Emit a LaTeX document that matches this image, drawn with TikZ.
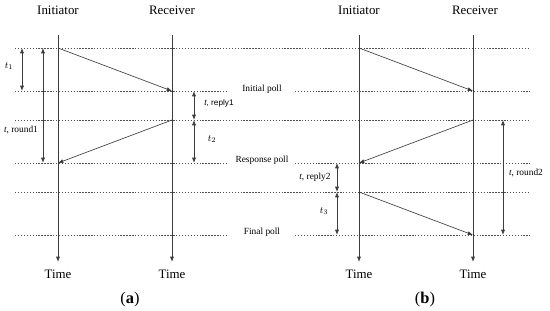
\documentclass[tikz,border=0pt]{standalone}
\usepackage{fontspec}
\setmainfont{Liberation Serif}
\newfontfamily\labelsans{Liberation Sans}
\usetikzlibrary{arrows.meta}
\definecolor{lanegray}{RGB}{60,60,60}
\definecolor{dashgray}{RGB}{80,80,80}

\begin{document}
\begin{tikzpicture}[x=0.03cm,y=-0.03cm,
  lane/.style={lanegray,line width=0.7pt,-{Latex[length=4.5pt,width=3.5pt]}},
  msg/.style={lanegray,line width=0.55pt,-{Latex[length=4.5pt,width=3.5pt]}},
  span/.style={lanegray,line width=0.55pt,{Latex[length=4.5pt,width=3.5pt]}-{Latex[length=4.5pt,width=3.5pt]}},
  level/.style={dashgray,line width=0.45pt,dash pattern=on 1.2pt off 1.3pt},
  head/.style={font=\fontsize{11}{13}\selectfont},
  small/.style={font=\fontsize{8}{10}\selectfont},
  tag/.style={font=\fontsize{14}{16}\selectfont}]
  \useasboundingbox (0,0) rectangle (550,311);
  % lanes, panel (a) and (b)
  \node[head] (ia) at (58,10) {Initiator};
  \node[head] (ra) at (172,10) {Receiver};
  \node[head] (ib) at (359,10) {Initiator};
  \node[head] (rb) at (475,10) {Receiver};
  \node[head] (tia) at (58,274) {Time};
  \node[head] (tra) at (172,274) {Time};
  \node[head] (tib) at (359,274) {Time};
  \node[head] (trb) at (473,274) {Time};
  \coordinate (ia0) at (58,35);   \coordinate (ia1) at (58,262);
  \coordinate (ra0) at (172,35);  \coordinate (ra1) at (172,262);
  \coordinate (ib0) at (359,35);  \coordinate (ib1) at (359,262);
  \coordinate (rb0) at (473,35);  \coordinate (rb1) at (473,262);
  \draw[lane] (ia0) -- (ia1);
  \draw[lane] (ra0) -- (ra1);
  \draw[lane] (ib0) -- (ib1);
  \draw[lane] (rb0) -- (rb1);
  % dashed levels
  \foreach \y in {48,120,192}
    \draw[level] (15,\y) -- (530,\y);
  \node[small] (poll1) at (262,89) {Initial poll};
  \node[small] (poll2) at (262,160) {Response poll};
  \node[small] (poll3) at (262,232) {Final poll};
  \foreach \y in {91,163,235}{
    \draw[level] (15,\y) -- (228,\y);
    \draw[level] (295,\y) -- (530,\y);
  }
  % messages
  \draw[msg] (58,48) -- (172,91);
  \draw[msg] (172,120) -- (58,163);
  \draw[msg] (359,48) -- (473,91);
  \draw[msg] (473,120) -- (359,163);
  \draw[msg] (359,192) -- (473,235);
  % intervals
  \coordinate (t1a) at (22,48);   \coordinate (t1b) at (22,91);
  \coordinate (rd1a) at (43,48);  \coordinate (rd1b) at (43,163);
  \coordinate (rp1a) at (194,91); \coordinate (rp1b) at (194,120);
  \coordinate (t2a) at (194,120); \coordinate (t2b) at (194,163);
  \coordinate (rp2a) at (337,163); \coordinate (rp2b) at (337,192);
  \coordinate (t3a) at (337,192); \coordinate (t3b) at (337,235);
  \coordinate (rd2a) at (503,120); \coordinate (rd2b) at (503,235);
  \draw[span] (t1a) -- (t1b);
  \draw[span] (rd1a) -- (rd1b);
  \draw[span] (rp1a) -- (rp1b);
  \draw[span] (t2a) -- (t2b);
  \draw[span] (rp2a) -- (rp2b);
  \draw[span] (t3a) -- (t3b);
  \draw[span] (rd2a) -- (rd2b);
  \node[small] (lt1) at (9,66) {$t_1$};
  \node[small] (lrd1) at (21,130) {\textit{t}, round1};
  \node[small,font=\fontsize{7}{9}\selectfont] (lrp1) at (219,103) {\labelsans\textit{t}, reply1};
  \node[small] (lt2) at (212,139) {$t_2$};
  \node[small] (lrp2) at (315,177) {\textit{t}, reply2};
  \node[small] (lt3) at (324,211) {$t_3$};
  \node[small] (lrd2) at (526,173) {\textit{t}, round2};
  % captions
  \node[tag] (capa) at (130,300) {(\textbf{a})};
  \node[tag] (capb) at (425,300) {(\textbf{b})};
\end{tikzpicture}
\end{document}
